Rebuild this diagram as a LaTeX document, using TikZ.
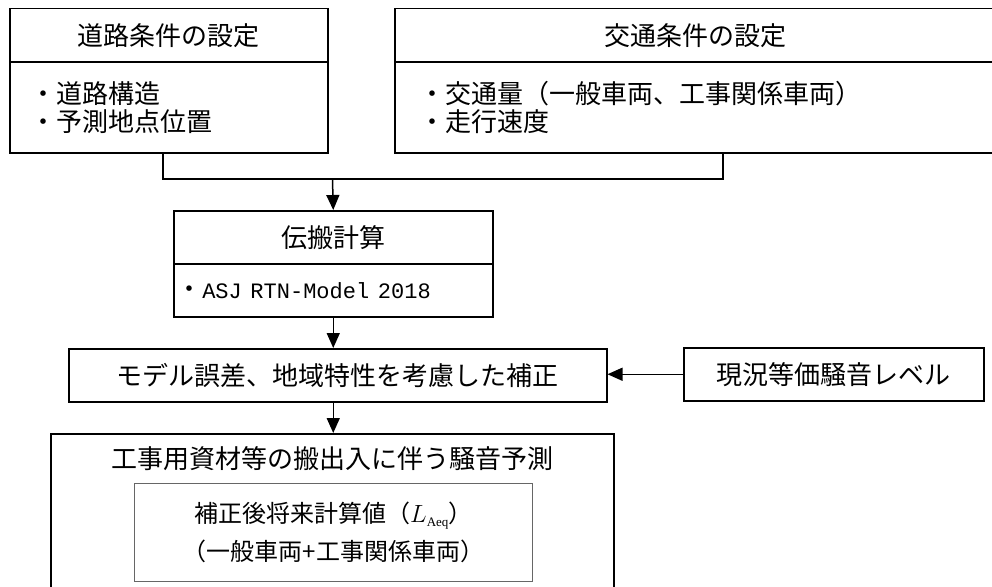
\documentclass[tikz,border=0pt]{standalone}
\usepackage{fontspec}
\setmainfont{Noto Sans CJK JP}
\newfontfamily\monofont{Liberation Mono}
\newfontfamily\serifsub{Liberation Serif}
\usetikzlibrary{arrows.meta}
\begin{document}
\begin{tikzpicture}[x=1pt,y=-1pt,
  box/.style={draw, line width=1.5pt, inner sep=0pt, anchor=north west, font=\fontsize{26}{28}\selectfont},
  innerbox/.style={draw=black!60, line width=1.1pt, inner sep=0pt, anchor=north west, align=center, font=\fontsize{24}{38}\selectfont},
  arr/.style={line width=1.5pt, -{Triangle[length=15pt,width=13pt]}},
  ln/.style={line width=1.5pt}]
\useasboundingbox (0,0) rectangle (992,586);
\clip (0,0) rectangle (992,586);
% top left
\node[box, minimum width=318pt, minimum height=53pt] (b1t) at (9,8) {道路条件の設定};
\node[box, minimum width=318pt, minimum height=91pt, text width=277pt, inner xsep=20.5pt, align=left] (b1b) at (9,61) {・道路構造\\・予測地点位置};
% top right
\node[box, minimum width=602pt, minimum height=53pt] (b2t) at (394,8) {交通条件の設定};
\node[box, minimum width=602pt, minimum height=91pt, text width=552.6pt, inner xsep=24.7pt, align=left] (b2b) at (394,61) {・交通量（一般車両、工事関係車両）\\・走行速度};
% propagation
\node[box, minimum width=319pt, minimum height=53pt] (b3t) at (173,210) {伝搬計算};
\node[box, minimum width=319pt, minimum height=53pt, text width=314pt, inner xsep=2.5pt, align=left] (b3b) at (173,263) {・{\monofont\fontsize{22}{28}\selectfont ASJ RTN-Model 2018}};
% correction
\node[box, minimum width=538pt, minimum height=53pt] (b4) at (68,348) {モデル誤差、地域特性を考慮した補正};
\node[box, minimum width=300pt, minimum height=53pt] (b6) at (683,347) {現況等価騒音レベル};
% prediction
\node[box, minimum width=563pt, minimum height=170pt] (b5) at (50,433) {};
\node[font=\fontsize{26}{28}\selectfont, inner sep=0pt] (t5) at (332,459) {工事用資材等の搬出入に伴う騒音予測};
\node[innerbox, minimum width=398pt, minimum height=98pt] (b5i) at (134,483) {補正後将来計算値（$L_{\hbox{\serifsub\fontsize{13}{13}\selectfont Aeq}}$）\\（一般車両+工事関係車両）};
% connectors
\coordinate (jn) at (332.5,179);
\draw[ln] ([xshift=-6pt]b1b.south) |- (jn) -| ([xshift=27pt]b2b.south);
\draw[arr] (jn) -- (b3t.north);
\draw[arr] (b3b.south) -- (b3b.south |- b4.north);
\draw[arr] ([xshift=-4.5pt]b4.south) -- ([xshift=-4.5pt]b4.south |- b5.north);
\draw[arr] (b6.west) -- (b6.west -| b4.east);
\end{tikzpicture}
\end{document}
